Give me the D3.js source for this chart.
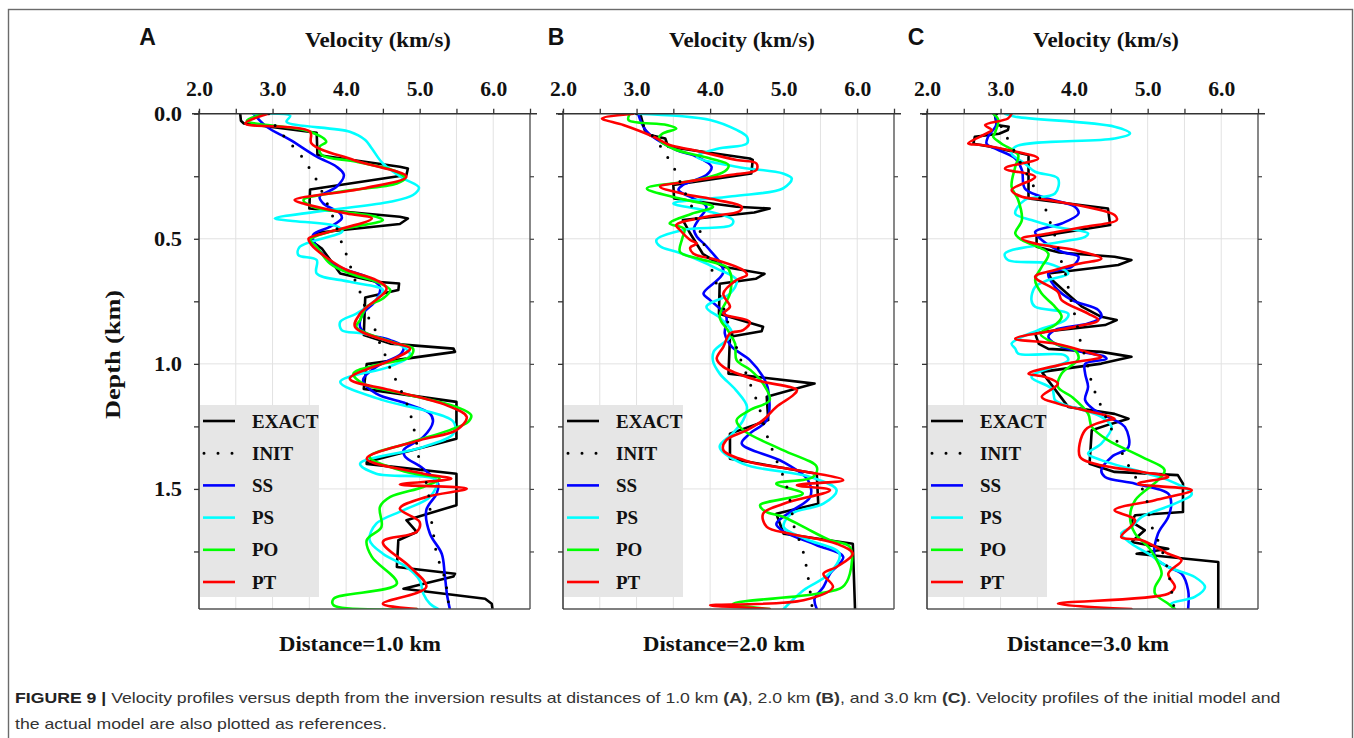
<!DOCTYPE html>
<html><head><meta charset="utf-8">
<script src="https://cdn.jsdelivr.net/npm/d3@7"></script>
<style>
html,body{margin:0;padding:0;background:#fff;}
svg{display:block;}
</style></head><body>
<svg id="chart" width="1354" height="738"></svg>
<script>
// ---------- DATA : [velocity (km/s), depth (km)] ----------
const panelLetters = ["A","B","C"];
const distances = ["Distance=1.0 km","Distance=2.0 km","Distance=3.0 km"];
const xTicks = [2.0,2.5,3.0,3.5,4.0,4.5,5.0,5.5,6.0,6.5];
const xTickLabels = ["2.0","","3.0","","4.0","","5.0","","6.0",""];
const yTicks = [0,0.25,0.5,0.75,1.0,1.25,1.5,1.75];
const yTickLabels = ["0.0","","0.5","","1.0","","1.5",""];
const seriesNames = ["EXACT","INIT","SS","PS","PO","PT"];

const exactA = [[2.56,0.0],[2.57,0.028],[2.61,0.039],[3.60,0.076],[3.61,0.165],[4.73,0.212],[4.84,0.219],[4.82,0.245],[3.51,0.303],[3.50,0.379],[4.73,0.412],[4.84,0.419],[4.73,0.441],[3.60,0.476],[3.51,0.505],[3.67,0.539],[3.92,0.639],[4.41,0.672],[4.72,0.679],[4.71,0.705],[4.26,0.735],[4.24,0.885],[4.60,0.919],[5.46,0.939],[5.48,0.952],[4.28,1.001],[4.24,1.10],[5.50,1.152],[5.50,1.299],[4.28,1.392],[4.28,1.40],[5.50,1.439],[5.50,1.565],[4.82,1.625],[4.96,1.672],[4.71,1.705],[4.69,1.812],[5.48,1.839],[5.46,1.85],[4.78,1.899],[5.89,1.939],[5.98,1.959],[5.99,1.98]];
const initA = [[2.95,0.0],[3.02,0.041],[3.14,0.085],[3.26,0.125],[3.39,0.169],[3.49,0.213],[3.59,0.261],[3.74,0.357],[3.82,0.412],[3.94,0.516],[4.01,0.568],[4.13,0.672],[4.20,0.721],[4.32,0.825],[4.41,0.873],[4.47,0.928],[4.55,0.977],[4.61,1.028],[4.70,1.078],[4.85,1.178],[4.90,1.232],[4.94,1.285],[4.97,1.338],[5.00,1.394],[5.06,1.448],[5.11,1.498],[5.15,1.605],[5.18,1.665],[5.24,1.772],[5.31,1.825],[5.36,1.885],[5.40,1.98]];
const ssA = [[2.74,0.0],[2.92,0.052],[3.24,0.105],[3.60,0.172],[3.87,0.212],[3.97,0.245],[3.87,0.292],[3.64,0.332],[3.69,0.359],[3.92,0.399],[3.94,0.419],[3.78,0.452],[3.55,0.485],[3.60,0.532],[3.83,0.599],[4.01,0.625],[4.28,0.652],[4.46,0.692],[4.41,0.745],[4.23,0.799],[4.19,0.852],[4.28,0.879],[4.60,0.905],[4.78,0.932],[4.75,0.959],[4.41,1.012],[4.23,1.065],[4.41,1.119],[4.82,1.159],[5.14,1.199],[5.18,1.232],[5.05,1.292],[4.78,1.345],[4.80,1.37],[5.05,1.419],[5.25,1.479],[5.23,1.519],[5.09,1.585],[5.14,1.679],[5.30,1.759],[5.34,1.839],[5.37,1.919],[5.41,1.98]];
const psA = [[2.74,0.0],[3.24,0.009],[3.19,0.032],[4.05,0.072],[4.26,0.105],[4.35,0.139],[4.50,0.199],[4.78,0.259],[4.99,0.295],[4.91,0.325],[4.60,0.352],[3.78,0.385],[3.03,0.419],[3.24,0.428],[3.87,0.45],[3.95,0.47],[3.37,0.532],[3.35,0.565],[3.60,0.585],[3.60,0.639],[4.05,0.672],[4.50,0.705],[4.40,0.745],[4.14,0.799],[3.92,0.832],[3.94,0.865],[4.23,0.879],[4.60,0.912],[4.78,0.932],[4.87,0.965],[4.60,1.01],[3.92,1.072],[4.50,1.145],[5.05,1.185],[5.46,1.232],[5.46,1.279],[5.05,1.332],[4.19,1.399],[4.41,1.439],[5.23,1.465],[5.14,1.532],[4.78,1.585],[4.41,1.639],[4.32,1.705],[4.50,1.759],[4.82,1.812],[5.00,1.865],[5.05,1.919],[5.14,1.959],[5.25,1.98]];
const poA = [[2.90,0.0],[2.65,0.028],[3.51,0.072],[3.73,0.112],[3.64,0.132],[3.67,0.165],[4.14,0.192],[4.69,0.232],[4.80,0.259],[4.69,0.279],[3.92,0.312],[3.42,0.345],[3.55,0.372],[4.41,0.412],[4.50,0.425],[3.78,0.472],[3.51,0.505],[3.60,0.532],[3.78,0.599],[4.05,0.639],[4.41,0.672],[4.60,0.705],[4.50,0.739],[4.28,0.772],[4.19,0.825],[4.14,0.852],[4.69,0.919],[4.91,0.939],[4.87,0.972],[4.41,1.005],[4.10,1.039],[4.23,1.079],[4.78,1.119],[5.50,1.172],[5.70,1.205],[5.66,1.232],[5.41,1.265],[4.82,1.319],[4.32,1.372],[4.82,1.432],[5.27,1.459],[5.05,1.492],[4.60,1.532],[4.46,1.572],[4.48,1.652],[4.28,1.705],[4.35,1.772],[4.69,1.879],[3.83,1.939],[3.83,1.965],[4.96,1.98]];
const ptA = [[2.94,0.0],[2.63,0.039],[3.51,0.072],[3.53,0.119],[4.10,0.185],[4.82,0.252],[4.23,0.299],[3.30,0.345],[3.42,0.359],[4.01,0.399],[4.35,0.419],[3.69,0.479],[3.49,0.499],[3.53,0.525],[3.78,0.585],[4.01,0.625],[4.41,0.665],[4.55,0.699],[4.19,0.799],[4.12,0.852],[4.60,0.912],[4.87,0.939],[4.66,0.979],[4.05,1.059],[4.60,1.105],[5.36,1.165],[5.64,1.212],[5.50,1.265],[5.00,1.305],[4.28,1.379],[5.05,1.439],[5.43,1.459],[4.73,1.482],[5.64,1.499],[5.09,1.532],[4.73,1.579],[5.00,1.632],[4.96,1.672],[4.50,1.712],[4.87,1.812],[5.09,1.892],[4.50,1.959],[4.96,1.98]];

const exactB = [[3.05,0.0],[3.11,0.065],[3.18,0.085],[3.39,0.099],[3.43,0.132],[4.54,0.179],[4.58,0.185],[4.56,0.239],[3.50,0.285],[3.51,0.339],[4.36,0.372],[4.81,0.379],[4.60,0.395],[3.63,0.425],[3.73,0.479],[3.90,0.56],[4.18,0.612],[4.74,0.64],[4.62,0.66],[4.13,0.68],[4.12,0.80],[4.72,0.852],[4.70,0.87],[4.27,0.892],[4.25,1.039],[5.42,1.079],[4.77,1.132],[4.79,1.225],[4.27,1.279],[4.27,1.379],[5.45,1.439],[5.47,1.559],[4.90,1.599],[5.00,1.679],[5.94,1.719],[5.97,1.98]];
const initB = [[3.0,0.0],[3.10,0.05],[3.24,0.096],[3.35,0.141],[3.45,0.188],[3.54,0.234],[3.61,0.285],[3.77,0.385],[3.83,0.438],[3.94,0.545],[4.05,0.648],[4.11,0.702],[4.16,0.753],[4.27,0.860],[4.33,0.908],[4.39,0.962],[4.52,1.062],[4.66,1.168],[4.76,1.274],[4.89,1.377],[5.03,1.478],[5.11,1.585],[5.13,1.638],[5.26,1.745],[5.33,1.849],[5.39,1.98]];
const ssB = [[3.02,0.0],[3.14,0.072],[3.54,0.145],[3.82,0.172],[4.02,0.212],[3.95,0.245],[3.63,0.285],[3.57,0.305],[3.95,0.372],[3.85,0.42],[3.78,0.46],[3.82,0.492],[3.95,0.53],[4.18,0.632],[3.91,0.719],[4.00,0.745],[4.22,0.812],[4.20,0.879],[4.29,0.93],[4.54,0.985],[4.72,1.052],[4.79,1.105],[4.77,1.225],[4.54,1.279],[4.43,1.319],[4.99,1.392],[5.33,1.465],[5.36,1.532],[5.10,1.59],[4.90,1.64],[5.0,1.67],[5.45,1.725],[5.81,1.772],[5.63,1.839],[5.54,1.892],[5.42,1.939],[5.45,1.98]];
const psB = [[3.0,0.0],[4.0,0.025],[4.36,0.065],[4.50,0.092],[4.50,0.119],[4.10,0.14],[3.82,0.172],[4.36,0.212],[4.99,0.239],[5.11,0.259],[4.99,0.299],[4.30,0.33],[3.50,0.359],[3.91,0.385],[4.31,0.425],[4.29,0.445],[3.63,0.465],[3.27,0.505],[3.32,0.53],[3.54,0.552],[3.80,0.58],[4.09,0.619],[4.36,0.665],[4.27,0.719],[3.95,0.772],[4.15,0.82],[4.30,0.88],[4.05,0.95],[4.04,0.99],[4.13,1.039],[4.35,1.105],[4.50,1.17],[4.45,1.225],[4.30,1.28],[4.13,1.332],[4.45,1.40],[5.36,1.452],[5.72,1.505],[5.54,1.559],[5.10,1.60],[5.00,1.652],[5.30,1.70],[5.76,1.759],[5.62,1.839],[5.27,1.905],[5.0,1.98]];
const poB = [[2.91,0.0],[2.89,0.025],[3.41,0.045],[3.54,0.059],[3.35,0.08],[3.30,0.10],[3.50,0.14],[4.0,0.179],[4.25,0.205],[4.20,0.23],[3.82,0.265],[3.14,0.299],[3.60,0.34],[4.04,0.372],[3.75,0.40],[3.45,0.439],[3.65,0.46],[3.62,0.50],[3.59,0.552],[3.85,0.58],[4.22,0.612],[4.28,0.64],[4.27,0.719],[4.13,0.812],[4.25,0.87],[4.34,0.919],[4.36,0.985],[4.55,1.025],[4.72,1.079],[4.81,1.145],[4.54,1.185],[4.36,1.225],[4.45,1.265],[4.99,1.345],[5.45,1.412],[5.40,1.452],[4.90,1.479],[5.26,1.519],[4.68,1.565],[4.75,1.59],[5.0,1.612],[5.27,1.652],[5.63,1.705],[5.90,1.732],[5.90,1.839],[5.80,1.892],[5.45,1.919],[4.31,1.959],[4.81,1.98]];
const ptB = [[2.96,0.0],[2.53,0.019],[2.82,0.045],[3.23,0.092],[3.45,0.125],[3.77,0.145],[4.36,0.185],[4.63,0.199],[4.63,0.225],[4.27,0.245],[3.68,0.272],[3.32,0.292],[3.63,0.32],[4.09,0.345],[4.43,0.372],[4.40,0.39],[3.95,0.412],[3.54,0.445],[3.59,0.465],[3.73,0.505],[3.82,0.519],[3.73,0.535],[3.77,0.559],[4.09,0.585],[4.45,0.625],[4.50,0.645],[4.36,0.665],[4.18,0.719],[4.27,0.772],[4.18,0.799],[4.54,0.832],[4.45,0.865],[4.27,0.879],[4.18,0.932],[4.09,0.979],[4.18,1.012],[4.63,1.065],[5.18,1.105],[5.13,1.125],[4.90,1.172],[4.72,1.225],[4.50,1.265],[4.22,1.305],[4.18,1.345],[4.54,1.392],[5.18,1.425],[5.81,1.465],[5.18,1.485],[5.63,1.505],[5.0,1.559],[4.72,1.599],[4.77,1.652],[5.09,1.679],[5.72,1.719],[5.94,1.759],[5.72,1.812],[5.54,1.839],[5.67,1.892],[5.27,1.945],[4.00,1.965],[4.54,1.975],[4.81,1.98]];

const exactC = [[2.92,0.0],[2.95,0.045],[3.11,0.052],[3.10,0.065],[2.98,0.08],[2.65,0.092],[2.63,0.12],[2.83,0.13],[3.38,0.165],[3.38,0.339],[4.46,0.379],[4.49,0.445],[3.49,0.492],[3.49,0.532],[3.80,0.555],[4.55,0.572],[4.78,0.585],[4.60,0.605],[3.65,0.639],[3.70,0.665],[3.85,0.705],[4.10,0.77],[4.37,0.812],[4.58,0.825],[4.42,0.845],[3.65,0.87],[3.47,0.879],[3.52,0.92],[3.65,0.94],[4.37,0.952],[4.78,0.972],[4.37,0.999],[3.56,1.032],[3.92,1.172],[4.55,1.20],[4.74,1.219],[4.50,1.24],[4.24,1.265],[4.21,1.399],[4.55,1.432],[5.41,1.445],[5.48,1.479],[5.48,1.592],[4.83,1.605],[4.78,1.632],[4.96,1.665],[4.78,1.712],[5.28,1.739],[4.85,1.759],[5.96,1.792],[5.96,1.98]];
const initC = [[2.95,0.0],[3.01,0.052],[3.10,0.102],[3.28,0.20],[3.46,0.296],[3.63,0.394],[3.69,0.448],[3.75,0.498],[3.84,0.605],[3.90,0.658],[3.93,0.712],[4.02,0.818],[4.06,0.872],[4.10,0.928],[4.16,0.978],[4.25,1.085],[4.39,1.185],[4.55,1.288],[4.70,1.385],[4.97,1.528],[5.04,1.636],[5.18,1.734],[5.28,1.832],[5.34,1.938],[5.36,1.98]];
const ssC = [[2.92,0.0],[2.94,0.045],[2.83,0.092],[2.81,0.12],[2.92,0.139],[3.20,0.179],[3.29,0.225],[3.33,0.299],[3.56,0.332],[4.01,0.372],[4.06,0.399],[3.83,0.439],[3.47,0.472],[3.56,0.505],[3.83,0.552],[4.06,0.572],[3.97,0.612],[3.65,0.639],[3.74,0.692],[3.97,0.745],[4.33,0.785],[4.37,0.812],[4.19,0.839],[3.74,0.865],[3.65,0.892],[3.83,0.932],[4.42,0.972],[4.44,0.98],[4.15,1.0],[4.15,1.039],[4.19,1.092],[4.15,1.145],[4.28,1.185],[4.55,1.225],[4.69,1.252],[4.74,1.332],[4.51,1.372],[4.37,1.425],[4.42,1.452],[4.83,1.479],[5.28,1.519],[5.32,1.559],[5.28,1.612],[5.14,1.679],[5.10,1.772],[5.28,1.812],[5.46,1.839],[5.55,1.905],[5.55,1.98]];
const psC = [[3.06,0.0],[3.20,0.012],[4.55,0.052],[4.76,0.079],[4.55,0.099],[3.20,0.132],[3.15,0.159],[3.33,0.199],[3.47,0.232],[3.78,0.259],[3.74,0.319],[3.33,0.345],[3.20,0.399],[3.42,0.425],[3.74,0.452],[4.19,0.479],[4.15,0.492],[3.83,0.512],[3.06,0.559],[3.10,0.585],[3.65,0.599],[3.92,0.639],[3.65,0.665],[3.47,0.692],[3.42,0.745],[3.47,0.772],[3.92,0.799],[3.88,0.825],[3.51,0.865],[3.15,0.919],[3.20,0.939],[3.24,0.959],[3.87,0.965],[3.92,0.985],[3.42,1.052],[3.70,1.10],[3.74,1.145],[3.83,1.159],[4.37,1.212],[4.51,1.252],[4.37,1.319],[4.19,1.359],[4.37,1.385],[5.0,1.439],[5.28,1.465],[5.60,1.519],[5.37,1.559],[4.92,1.612],[4.78,1.652],[4.64,1.679],[4.78,1.719],[5.01,1.759],[5.28,1.812],[5.64,1.852],[5.78,1.892],[5.64,1.932],[5.32,1.959],[5.37,1.98]];
const poC = [[2.90,0.0],[2.97,0.025],[2.92,0.079],[2.90,0.092],[3.01,0.119],[3.24,0.165],[3.20,0.212],[3.15,0.292],[3.24,0.345],[3.29,0.425],[3.20,0.479],[3.29,0.505],[3.65,0.559],[3.56,0.612],[3.47,0.665],[3.56,0.719],[3.74,0.772],[3.83,0.812],[3.74,0.845],[3.54,0.879],[3.74,0.919],[4.01,0.945],[4.06,0.979],[3.83,1.039],[3.78,1.092],[3.97,1.132],[4.19,1.199],[4.24,1.252],[4.46,1.305],[4.92,1.372],[5.23,1.425],[5.14,1.465],[4.83,1.545],[4.76,1.612],[4.83,1.679],[5.01,1.732],[5.10,1.772],[5.19,1.839],[5.10,1.892],[5.10,1.919],[5.28,1.959],[5.37,1.98]];
const ptC = [[3.15,0.0],[3.10,0.019],[2.79,0.045],[2.88,0.065],[2.81,0.079],[2.56,0.119],[2.74,0.125],[3.10,0.145],[3.51,0.179],[3.06,0.219],[3.47,0.252],[3.15,0.305],[3.29,0.332],[3.65,0.345],[4.55,0.405],[4.58,0.425],[4.15,0.452],[3.65,0.479],[3.29,0.499],[3.47,0.519],[4.01,0.545],[4.37,0.579],[4.06,0.60],[3.74,0.625],[3.47,0.652],[3.78,0.712],[3.83,0.745],[4.19,0.799],[4.33,0.825],[4.01,0.852],[3.20,0.899],[3.74,0.919],[4.24,0.959],[4.37,0.972],[3.88,1.0],[3.38,1.039],[3.60,1.052],[3.78,1.079],[3.56,1.132],[3.78,1.159],[4.55,1.219],[4.46,1.225],[4.15,1.265],[4.08,1.372],[4.28,1.399],[4.92,1.432],[5.28,1.452],[4.87,1.479],[5.60,1.505],[5.10,1.545],[4.55,1.585],[4.83,1.625],[4.64,1.692],[4.92,1.705],[5.28,1.759],[5.46,1.785],[5.28,1.839],[5.37,1.892],[5.28,1.919],[3.78,1.959],[4.78,1.98]];

// ---------- LAYOUT ----------
const panels = [
  {exact:exactA, init:initA, ss:ssA, ps:psA, po:poA, pt:ptA},
  {exact:exactB, init:initB, ss:ssB, ps:psB, po:poB, pt:ptB},
  {exact:exactC, init:initC, ss:ssC, ps:psC, po:poC, pt:ptC}
];
const panelLeft = [199, 563, 927];
const letterX = [147.5, 556, 916];
const plotTop = 113.7, plotW = 331, plotH = 495.3;
const serif = "'Liberation Serif','Times New Roman',serif";
const sans = "'Liberation Sans',Arial,sans-serif";

const svg = d3.select("#chart");
svg.append("rect").attr("x",8.5).attr("y",9.5).attr("width",1344).attr("height",760)
  .attr("fill","none").attr("stroke","#6b6b6b").attr("stroke-width",1.4);

const x = d3.scaleLinear().domain([2, 6.5]).range([0, plotW]);
const y = d3.scaleLinear().domain([0, 1.98]).range([0, plotH]);

const styles = {
  exact:{color:"#000000", w:2.6},
  ss:{color:"#0000ff", w:2.6},
  ps:{color:"#00ffff", w:2.6},
  po:{color:"#00ff00", w:2.6},
  pt:{color:"#ff0000", w:2.6}
};
const legendKeys = ["exact","init","ss","ps","po","pt"];

panels.forEach((p, i) => {
  const L = panelLeft[i];
  const g = svg.append("g").attr("transform", `translate(${L},${plotTop})`);

  svg.append("clipPath").attr("id","clip"+i).append("rect")
    .attr("x",0).attr("y",0).attr("width",plotW).attr("height",plotH);

  // grid
  g.append("g").selectAll("line").data(xTicks.filter(v => v > 2 && v < 6.5)).join("line")
    .attr("x1", d => x(d)).attr("x2", d => x(d)).attr("y1", 0).attr("y2", plotH)
    .attr("stroke", "#e2e2e2").attr("stroke-width", 1);
  g.append("g").selectAll("line").data([0.5,1.0,1.5]).join("line")
    .attr("y1", d => y(d)).attr("y2", d => y(d)).attr("x1", 0).attr("x2", plotW)
    .attr("stroke", "#e2e2e2").attr("stroke-width", 1);

  const line = d3.line().x(d => x(d[0])).y(d => y(d[1])).curve(d3.curveLinear);
  const smooth = d3.line().x(d => x(d[0])).y(d => y(d[1])).curve(d3.curveCatmullRom.alpha(0.5));

  const lg = g.append("g").attr("clip-path", `url(#clip${i})`);
  ["exact","ss","ps","po","pt"].forEach(k => {
    lg.append("path").datum(p[k])
      .attr("d", k === "exact" ? line : smooth)
      .attr("fill","none").attr("stroke", styles[k].color).attr("stroke-width", styles[k].w)
      .attr("stroke-linejoin","round").attr("stroke-linecap","round");
  });
  lg.append("path").datum(p.init).attr("d", smooth)
    .attr("fill","none").attr("stroke","#000").attr("stroke-width",3)
    .attr("stroke-linecap","round").attr("stroke-dasharray","0 13.5");

  // legend
  const leg = g.append("g").attr("transform", `translate(1, ${405 - plotTop})`);
  leg.append("rect").attr("width",119).attr("height",192).attr("fill","#e6e6e6");
  legendKeys.forEach((k, j) => {
    const yy = 16 + j * 32.2;
    if (k === "init") {
      leg.append("line").attr("x1",4).attr("x2",33).attr("y1",yy).attr("y2",yy)
        .attr("stroke","#000").attr("stroke-width",3).attr("stroke-linecap","round")
        .attr("stroke-dasharray","0 14");
    } else {
      leg.append("line").attr("x1",3).attr("x2",35).attr("y1",yy).attr("y2",yy)
        .attr("stroke", styles[k].color).attr("stroke-width",2.6);
    }
    leg.append("text").attr("x",52).attr("y",yy + 6.5).text(seriesNames[j])
      .attr("font-family",serif).attr("font-weight","bold").attr("font-size",19).attr("fill","#111");
  });

  // frame right/bottom
  g.append("line").attr("x1",plotW).attr("x2",plotW).attr("y1",0).attr("y2",plotH)
    .attr("stroke","#555").attr("stroke-width",1.4);
  g.append("line").attr("x1",0).attr("x2",plotW).attr("y1",plotH).attr("y2",plotH)
    .attr("stroke","#555").attr("stroke-width",1.4);

  // top axis
  const ax = d3.axisTop(x).tickValues(xTicks).tickSize(5).tickPadding(12.7)
    .tickFormat((d, k) => xTickLabels[k]);
  const gx = g.append("g").call(ax);
  gx.select(".domain").remove();
  gx.selectAll(".tick line").attr("stroke","#333").attr("stroke-width",1.3);
  gx.selectAll("text").attr("font-family",serif).attr("font-weight","bold").attr("font-size",20).attr("fill","#111")
    .filter(function(){ return this.textContent !== ""; })
    .attr("textLength",27).attr("lengthAdjust","spacingAndGlyphs");
  g.append("line").attr("x1",-7).attr("x2",plotW + 7).attr("y1",0).attr("y2",0)
    .attr("stroke","#333").attr("stroke-width",1.5);

  // left axis
  const ay = d3.axisLeft(y).tickValues(yTicks).tickSize(5).tickPadding(12)
    .tickFormat((d, k) => i === 0 ? yTickLabels[k] : "");
  const gy = g.append("g").call(ay);
  gy.select(".domain").remove();
  gy.selectAll(".tick line").attr("stroke","#333").attr("stroke-width",1.3);
  gy.selectAll("text").attr("font-family",serif).attr("font-weight","bold").attr("font-size",20).attr("fill","#111")
    .filter(function(){ return this.textContent !== ""; })
    .attr("textLength",28).attr("lengthAdjust","spacingAndGlyphs");
  g.append("line").attr("x1",0).attr("x2",0).attr("y1",-3).attr("y2",plotH)
    .attr("stroke","#333").attr("stroke-width",1.5);

  // right ticks
  const ar = d3.axisRight(y).tickValues(yTicks.filter(v => v > 0)).tickSize(4).tickFormat("");
  const gr = g.append("g").attr("transform", `translate(${plotW},0)`).call(ar);
  gr.select(".domain").remove();
  gr.selectAll(".tick line").attr("stroke","#444").attr("stroke-width",1.2);

  // titles
  svg.append("text").attr("x", letterX[i]).attr("y", 45).attr("text-anchor","middle")
    .text(panelLetters[i]).attr("font-family",sans).attr("font-weight","bold").attr("font-size",23).attr("fill","#111");
  svg.append("text").attr("x", L + 106).attr("y", 47)
    .text("Velocity (km/s)").attr("font-family",serif).attr("font-weight","bold").attr("font-size",21.5).attr("fill","#111")
    .attr("textLength",146).attr("lengthAdjust","spacingAndGlyphs");
  svg.append("text").attr("x", L + 80).attr("y", 651)
    .text(distances[i]).attr("font-family",serif).attr("font-weight","bold").attr("font-size",21).attr("fill","#111")
    .attr("textLength",162).attr("lengthAdjust","spacingAndGlyphs");
});

svg.append("text").attr("transform","translate(120,419) rotate(-90)")
  .text("Depth (km)").attr("font-family",serif).attr("font-weight","bold").attr("font-size",20).attr("fill","#111")
  .attr("textLength",129).attr("lengthAdjust","spacingAndGlyphs");

// caption
const cap1 = svg.append("text").attr("font-family",sans).attr("font-size",15).attr("fill","#333");
cap1.append("tspan").attr("font-weight","bold").attr("fill","#222").text("FIGURE 9 | ");
cap1.append("tspan").text("Velocity profiles versus depth from the inversion results at distances of 1.0 km ");
cap1.append("tspan").attr("font-weight","bold").text("(A)");
cap1.append("tspan").text(", 2.0 km ");
cap1.append("tspan").attr("font-weight","bold").text("(B)");
cap1.append("tspan").text(", and 3.0 km ");
cap1.append("tspan").attr("font-weight","bold").text("(C)");
cap1.append("tspan").text(". Velocity profiles of the initial model and");
const len1 = cap1.node().getComputedTextLength();
const k = 1266 / len1;
cap1.attr("transform", `translate(15,703) scale(${k},1)`);
svg.append("text").attr("font-family",sans).attr("font-size",15).attr("fill","#333")
  .attr("transform", `translate(15,729) scale(${k},1)`)
  .text("the actual model are also plotted as references.");
</script>
</body></html>
